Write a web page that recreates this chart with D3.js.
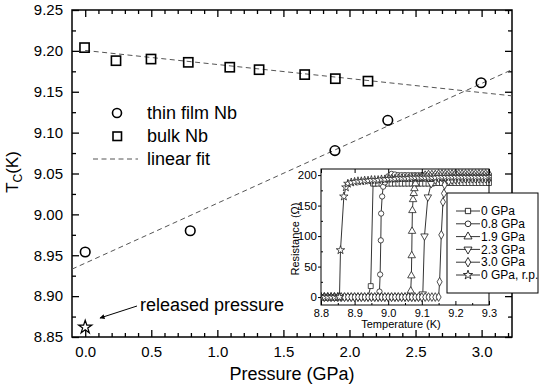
<!DOCTYPE html>
<html>
<head>
<meta charset="utf-8">
<script src="https://cdn.jsdelivr.net/npm/d3@7"></script>
<style>
  html, body { margin: 0; padding: 0; background: #fff; }
  svg { display: block; font-family: "Liberation Sans", Arial, Helvetica, sans-serif; }
</style>
</head>
<body>
<svg id="chart" width="550" height="386"></svg>
<script>
// ---------------- main data ----------------
const pressureFilm = [0, 0.795, 1.89, 2.29, 2.996];
const tcFilm = [8.954, 8.980, 9.078, 9.115, 9.161];
const pressureBulk = [-0.005, 0.233, 0.498, 0.78, 1.094, 1.316, 1.661, 1.893, 2.14];
const tcBulk = [9.204, 9.188, 9.190, 9.186, 9.180, 9.177, 9.171, 9.166, 9.163];
const pressureReleased = [0];
const tcReleased = [8.862];
const fitFilmP = [-0.1, 3.23];
const fitFilmTc = [8.933, 9.177];
const fitBulkP = [0, 3.23];
const fitBulkTc = [9.2005, 9.145];
const xTicks = [0, 0.5, 1.0, 1.5, 2.0, 2.5, 3.0];
const yTicks = [8.85, 8.90, 8.95, 9.00, 9.05, 9.10, 9.15, 9.20, 9.25];
const legendLabels = ["thin film Nb", "bulk Nb", "linear fit"];

// ---------------- inset data (T in K, R in Ohm) ----------------
const inset0GPa = [[8.80,0],[8.81,0],[8.82,0],[8.83,0],[8.84,0],[8.85,0],[8.86,0],[8.87,0],[8.88,0],[8.89,0],[8.90,0],[8.91,0],[8.92,0],[8.93,0],[8.94,0],[8.948,18],[8.955,186],[8.96,186],[8.97,186],[8.98,186],[8.99,186],[9.00,186],[9.01,186],[9.02,186],[9.03,186],[9.04,186],[9.05,186],[9.06,186],[9.07,186],[9.08,186],[9.09,186],[9.10,186],[9.11,186],[9.12,186],[9.13,186],[9.14,187],[9.15,187],[9.16,187],[9.17,187],[9.18,187],[9.19,187],[9.20,187],[9.21,187],[9.22,187],[9.23,187],[9.24,187],[9.25,187],[9.26,187],[9.27,187],[9.28,187],[9.29,187],[9.30,187]];
const inset08GPa = [[8.80,0],[8.81,0],[8.82,0],[8.83,0],[8.84,0],[8.85,0],[8.86,0],[8.87,0],[8.88,0],[8.89,0],[8.90,0],[8.91,0],[8.92,0],[8.93,0],[8.94,0],[8.95,0],[8.96,0],[8.97,0],[8.974,9],[8.976,37],[8.978,93],[8.979,137],[8.982,165],[8.985,181],[8.99,188],[9.00,198],[9.01,202],[9.02,201],[9.03,200],[9.04,200],[9.05,200],[9.06,200],[9.07,200],[9.08,200],[9.09,200],[9.10,200],[9.11,200],[9.12,200],[9.13,200],[9.14,200],[9.15,200],[9.16,200],[9.17,200],[9.18,200],[9.19,200],[9.20,200],[9.21,200],[9.22,200],[9.23,200],[9.24,200],[9.25,200],[9.26,200],[9.27,200],[9.28,200],[9.29,200],[9.30,200]];
const inset19GPa = [[8.80,0],[8.81,0],[8.82,0],[8.83,0],[8.84,0],[8.85,0],[8.86,0],[8.87,0],[8.88,0],[8.89,0],[8.90,0],[8.91,0],[8.92,0],[8.93,0],[8.94,0],[8.95,0],[8.96,0],[8.97,0],[8.98,0],[8.99,0],[9.00,0],[9.01,0],[9.02,0],[9.03,0],[9.04,0],[9.05,0],[9.06,0],[9.067,10],[9.069,35],[9.070,68],[9.071,108],[9.072,142],[9.074,160],[9.076,170],[9.078,178],[9.081,186],[9.09,194],[9.10,198],[9.11,200],[9.12,201],[9.13,201],[9.14,201],[9.15,202],[9.16,202],[9.17,202],[9.18,202],[9.19,202],[9.20,202],[9.21,202],[9.22,202],[9.23,202],[9.24,202],[9.25,202],[9.26,202],[9.27,202],[9.28,202],[9.29,202],[9.30,202]];
const inset23GPa = [[8.80,0],[8.81,0],[8.82,0],[8.83,0],[8.84,0],[8.85,0],[8.86,0],[8.87,0],[8.88,0],[8.89,0],[8.90,0],[8.91,0],[8.92,0],[8.93,0],[8.94,0],[8.95,0],[8.96,0],[8.97,0],[8.98,0],[8.99,0],[9.00,0],[9.01,0],[9.02,0],[9.03,0],[9.04,0],[9.05,0],[9.06,0],[9.07,0],[9.08,0],[9.09,0],[9.10,0],[9.103,5],[9.108,100],[9.118,164],[9.128,186],[9.14,192],[9.15,195],[9.16,196],[9.17,196],[9.18,196],[9.19,197],[9.20,197],[9.21,197],[9.22,197],[9.23,197],[9.24,197],[9.25,197],[9.26,197],[9.27,197],[9.28,197],[9.29,197],[9.30,197]];
const inset30GPa = [[8.80,0],[8.81,0],[8.82,0],[8.83,0],[8.84,0],[8.85,0],[8.86,0],[8.87,0],[8.88,0],[8.89,0],[8.90,0],[8.91,0],[8.92,0],[8.93,0],[8.94,0],[8.95,0],[8.96,0],[8.97,0],[8.98,0],[8.99,0],[9.00,0],[9.01,0],[9.02,0],[9.03,0],[9.04,0],[9.05,0],[9.06,0],[9.07,0],[9.08,0],[9.09,0],[9.10,0],[9.11,0],[9.12,0],[9.13,0],[9.14,0],[9.15,0],[9.153,25],[9.158,102],[9.163,156],[9.166,170],[9.168,184],[9.18,190],[9.19,192],[9.20,193],[9.21,193],[9.22,194],[9.23,194],[9.24,194],[9.25,194],[9.26,194],[9.27,194],[9.28,194],[9.29,194],[9.30,194]];
const inset0GPaRp = [[8.80,0],[8.81,0],[8.82,0],[8.83,0],[8.84,0],[8.85,0],[8.855,0],[8.858,77],[8.868,165],[8.874,180],[8.88,186],[8.89,188],[8.90,189],[8.91,190],[8.92,190],[8.93,191],[8.94,191],[8.95,192],[8.96,192],[8.97,192],[8.98,193],[8.99,193],[9.00,194],[9.01,194],[9.02,194],[9.03,195],[9.04,195],[9.05,195],[9.06,195],[9.07,196],[9.08,196],[9.09,196],[9.10,196],[9.11,196],[9.12,196],[9.13,196],[9.14,196],[9.15,197],[9.16,197],[9.17,197],[9.18,197],[9.19,197],[9.20,197],[9.21,197],[9.22,197],[9.23,197],[9.24,197],[9.25,197],[9.26,197],[9.27,197],[9.28,197],[9.29,197],[9.30,197]];
const insetLabels = ["0 GPa", "0.8 GPa", "1.9 GPa", "2.3 GPa", "3.0 GPa", "0 GPa, r.p."];
const insetXTicks = [8.8, 8.9, 9.0, 9.1, 9.2, 9.3];
const insetYTicks = [0, 50, 100, 150, 200];

// ---------------- layout ----------------
const svg = d3.select("#chart");
const M = { left: 72, right: 512, top: 10, bottom: 337 };
const x = d3.scaleLinear().domain([-0.1, 3.23]).range([M.left, M.right]);
const y = d3.scaleLinear().domain([8.85, 9.25]).range([M.bottom, M.top]);

const g = svg.append("g");

function styleAxis(sel, fs) {
  sel.select(".domain").remove();
  sel.selectAll(".tick line").attr("stroke", "#000").attr("stroke-width", 1.3);
  sel.selectAll(".tick text").attr("fill", "#000").style("font-size", fs + "px").style("font-family", "'Liberation Sans', Arial, sans-serif");
}
const xMinor = d3.range(1, 33).map(d => d / 10).filter(d => Math.abs(d * 2 - Math.round(d * 2)) > 1e-6);
const yMinor = [8.875, 8.925, 8.975, 9.025, 9.075, 9.125, 9.175, 9.225];

g.append("g").attr("transform", `translate(0,${M.bottom})`)
  .call(d3.axisBottom(x).tickValues(xTicks).tickFormat(d3.format(".1f")).tickSize(-7).tickPadding(9))
  .call(s => styleAxis(s, 15));
g.append("g").attr("transform", `translate(0,${M.bottom})`)
  .call(d3.axisBottom(x).tickValues(xMinor).tickFormat("").tickSize(-4))
  .call(s => styleAxis(s, 15));
g.append("g").attr("transform", `translate(0,${M.top})`)
  .call(d3.axisTop(x).tickValues(xTicks).tickFormat("").tickSize(-7))
  .call(s => styleAxis(s, 15));
g.append("g").attr("transform", `translate(0,${M.top})`)
  .call(d3.axisTop(x).tickValues(xMinor).tickFormat("").tickSize(-4))
  .call(s => styleAxis(s, 15));
g.append("g").attr("transform", `translate(${M.left},0)`)
  .call(d3.axisLeft(y).tickValues(yTicks).tickFormat(d3.format(".2f")).tickSize(-7).tickPadding(9))
  .call(s => styleAxis(s, 15));
g.append("g").attr("transform", `translate(${M.left},0)`)
  .call(d3.axisLeft(y).tickValues(yMinor).tickFormat("").tickSize(-4))
  .call(s => styleAxis(s, 15));
g.append("g").attr("transform", `translate(${M.right},0)`)
  .call(d3.axisRight(y).tickValues(yTicks).tickFormat("").tickSize(-7))
  .call(s => styleAxis(s, 15));
g.append("g").attr("transform", `translate(${M.right},0)`)
  .call(d3.axisRight(y).tickValues(yMinor).tickFormat("").tickSize(-4))
  .call(s => styleAxis(s, 15));

g.append("rect").attr("x", M.left).attr("y", M.top)
  .attr("width", M.right - M.left).attr("height", M.bottom - M.top)
  .attr("fill", "none").attr("stroke", "#000").attr("stroke-width", 1.5);

// axis titles
g.append("text").attr("x", (M.left + M.right) / 2).attr("y", 380)
  .attr("text-anchor", "middle").style("font-size", "18px").text("Pressure (GPa)");
const yt = g.append("text").attr("transform", "translate(18,172) rotate(-90)")
  .attr("text-anchor", "middle").style("font-size", "17px");
yt.append("tspan").text("T");
yt.append("tspan").attr("dy", 4).style("font-size", "12px").text("C");
yt.append("tspan").attr("dy", -4).text("(K)");

// fit lines
const line = d3.line().x(d => x(d[0])).y(d => y(d[1]));
svg.append("clipPath").attr("id", "clipMain").append("rect")
  .attr("x", M.left).attr("y", M.top).attr("width", M.right - M.left).attr("height", M.bottom - M.top);
[[fitFilmP, fitFilmTc], [fitBulkP, fitBulkTc]].forEach(([P, T]) => {
  g.append("path").attr("clip-path", "url(#clipMain)")
    .attr("d", line(P.map((p, i) => [p, T[i]])))
    .attr("fill", "none").attr("stroke", "#555").attr("stroke-width", 1).attr("stroke-dasharray", "5,3.5");
});

// markers
g.selectAll(".film").data(pressureFilm.map((p, i) => [p, tcFilm[i]])).join("circle")
  .attr("cx", d => x(d[0])).attr("cy", d => y(d[1])).attr("r", 4.8)
  .attr("fill", "none").attr("stroke", "#000").attr("stroke-width", 1.6);
g.selectAll(".bulk").data(pressureBulk.map((p, i) => [p, tcBulk[i]])).join("rect")
  .attr("x", d => x(d[0]) - 4.6).attr("y", d => y(d[1]) - 4.6).attr("width", 9.2).attr("height", 9.2)
  .attr("fill", "none").attr("stroke", "#000").attr("stroke-width", 1.6);
g.selectAll(".rel").data(pressureReleased.map((p, i) => [p, tcReleased[i]])).join("path")
  .attr("transform", d => `translate(${x(d[0])},${y(d[1])})`)
  .attr("d", d3.symbol().type(d3.symbolStar).size(55))
  .attr("fill", "none").attr("stroke", "#000").attr("stroke-width", 1.2);

// legend
const lg = g.append("g");
lg.append("circle").attr("cx", 117).attr("cy", 113).attr("r", 4.5)
  .attr("fill", "none").attr("stroke", "#000").attr("stroke-width", 1.6);
lg.append("rect").attr("x", 113).attr("y", 132).attr("width", 8.5).attr("height", 8.5)
  .attr("fill", "none").attr("stroke", "#000").attr("stroke-width", 1.6);
lg.append("line").attr("x1", 93).attr("x2", 138).attr("y1", 159).attr("y2", 159)
  .attr("stroke", "#555").attr("stroke-width", 1).attr("stroke-dasharray", "5,3.5");
legendLabels.forEach((t, i) => {
  lg.append("text").attr("x", 147).attr("y", 113 + i * 23).attr("dy", "0.35em")
    .style("font-size", "18px").text(t);
});

// annotation
svg.append("defs").append("marker").attr("id", "arrow").attr("viewBox", "0 0 10 10")
  .attr("refX", 9).attr("refY", 5).attr("markerWidth", 7).attr("markerHeight", 5)
  .attr("orient", "auto").append("path").attr("d", "M0,0L10,5L0,10z").attr("fill", "#000");
g.append("line").attr("x1", 137).attr("y1", 306).attr("x2", 100).attr("y2", 318)
  .attr("stroke", "#000").attr("stroke-width", 1).attr("marker-end", "url(#arrow)");
g.append("text").attr("x", 140).attr("y", 311).style("font-size", "18px").text("released pressure");

// ---------------- inset ----------------
const I = { left: 321, right: 489, top: 169, bottom: 305 };
const ix = d3.scaleLinear().domain([8.8, 9.3]).range([I.left, I.right]);
const iy = d3.scaleLinear().domain([-13, 210]).range([I.bottom, I.top]);
const ig = svg.append("g");
ig.append("rect").attr("x", I.left).attr("y", I.top).attr("width", I.right - I.left)
  .attr("height", I.bottom - I.top).attr("fill", "#fff");
svg.append("clipPath").attr("id", "clipInset").append("rect")
  .attr("x", I.left).attr("y", I.top - 2).attr("width", I.right - I.left + 3).attr("height", I.bottom - I.top + 2);

const insetSeries = [
  { data: inset0GPa, sym: d3.symbolSquare, size: 24, rot: 0 },
  { data: inset08GPa, sym: d3.symbolCircle, size: 22, rot: 0 },
  { data: inset19GPa, sym: d3.symbolTriangle, size: 24, rot: 0 },
  { data: inset23GPa, sym: d3.symbolTriangle, size: 24, rot: 180 },
  { data: inset30GPa, sym: d3.symbolDiamond, size: 22, rot: 0 },
  { data: inset0GPaRp, sym: d3.symbolStar, size: 22, rot: 0 }
];
const iline = d3.line().x(d => ix(d[0])).y(d => iy(d[1]));
const dataG = ig.append("g").attr("clip-path", "url(#clipInset)");
insetSeries.forEach(s => {
  dataG.append("path").attr("d", iline(s.data)).attr("fill", "none")
    .attr("stroke", "#000").attr("stroke-width", 0.8);
});
insetSeries.forEach(s => {
  dataG.append("g").selectAll("path").data(s.data).join("path")
    .attr("transform", d => `translate(${ix(d[0])},${iy(d[1])}) rotate(${s.rot})`)
    .attr("d", d3.symbol().type(s.sym).size(s.size))
    .attr("fill", "#fff").attr("stroke", "#222").attr("stroke-width", 0.8);
});

const ixMinor = [8.85, 8.95, 9.05, 9.15, 9.25];
const iyMinor = [25, 75, 125, 175];
ig.append("g").attr("transform", `translate(0,${I.bottom})`)
  .call(d3.axisBottom(ix).tickValues(insetXTicks).tickFormat(d3.format(".1f")).tickSize(-4).tickPadding(4))
  .call(s => styleAxis(s, 11)).selectAll(".tick line").attr("stroke-width", 1);
ig.append("g").attr("transform", `translate(0,${I.bottom})`)
  .call(d3.axisBottom(ix).tickValues(ixMinor).tickFormat("").tickSize(-2))
  .call(s => styleAxis(s, 11)).selectAll(".tick line").attr("stroke-width", 1);
ig.append("g").attr("transform", `translate(0,${I.top})`)
  .call(d3.axisTop(ix).tickValues(insetXTicks).tickFormat("").tickSize(-4))
  .call(s => styleAxis(s, 11)).selectAll(".tick line").attr("stroke-width", 1);
ig.append("g").attr("transform", `translate(${I.left},0)`)
  .call(d3.axisLeft(iy).tickValues(insetYTicks).tickFormat(d3.format("d")).tickSize(3).tickPadding(1))
  .call(s => styleAxis(s, 11.5)).selectAll(".tick line").attr("stroke-width", 1);
ig.append("g").attr("transform", `translate(${I.left},0)`)
  .call(d3.axisLeft(iy).tickValues(iyMinor).tickFormat("").tickSize(-2))
  .call(s => styleAxis(s, 11)).selectAll(".tick line").attr("stroke-width", 1);
ig.append("rect").attr("x", I.left).attr("y", I.top).attr("width", I.right - I.left)
  .attr("height", I.bottom - I.top).attr("fill", "none").attr("stroke", "#000").attr("stroke-width", 1);
ig.append("text").attr("x", (I.left + I.right) / 2 - 4).attr("y", 328)
  .attr("text-anchor", "middle").style("font-size", "11px").text("Temperature (K)");
ig.append("text").attr("transform", `translate(299,${(I.top + I.bottom) / 2 + 2}) rotate(-90)`)
  .attr("text-anchor", "middle").style("font-size", "11px").text("Resistance (Ω)");

// inset legend
const ilg = svg.append("g");
ilg.append("rect").attr("x", 447).attr("y", 193).attr("width", 91).attr("height", 100)
  .attr("fill", "#fff").attr("stroke", "#000").attr("stroke-width", 1);
insetSeries.forEach((s, i) => {
  const yy = 211 + i * 12.8;
  ilg.append("line").attr("x1", 456).attr("x2", 480).attr("y1", yy).attr("y2", yy)
    .attr("stroke", "#000").attr("stroke-width", 0.8);
  ilg.append("path").attr("transform", `translate(468,${yy}) rotate(${s.rot})`)
    .attr("d", d3.symbol().type(s.sym).size(s.size + 4))
    .attr("fill", "#fff").attr("stroke", "#000").attr("stroke-width", 0.8);
  ilg.append("text").attr("x", 481).attr("y", yy).attr("dy", "0.35em")
    .style("font-size", "12px").text(insetLabels[i]);
});
</script>
</body>
</html>
